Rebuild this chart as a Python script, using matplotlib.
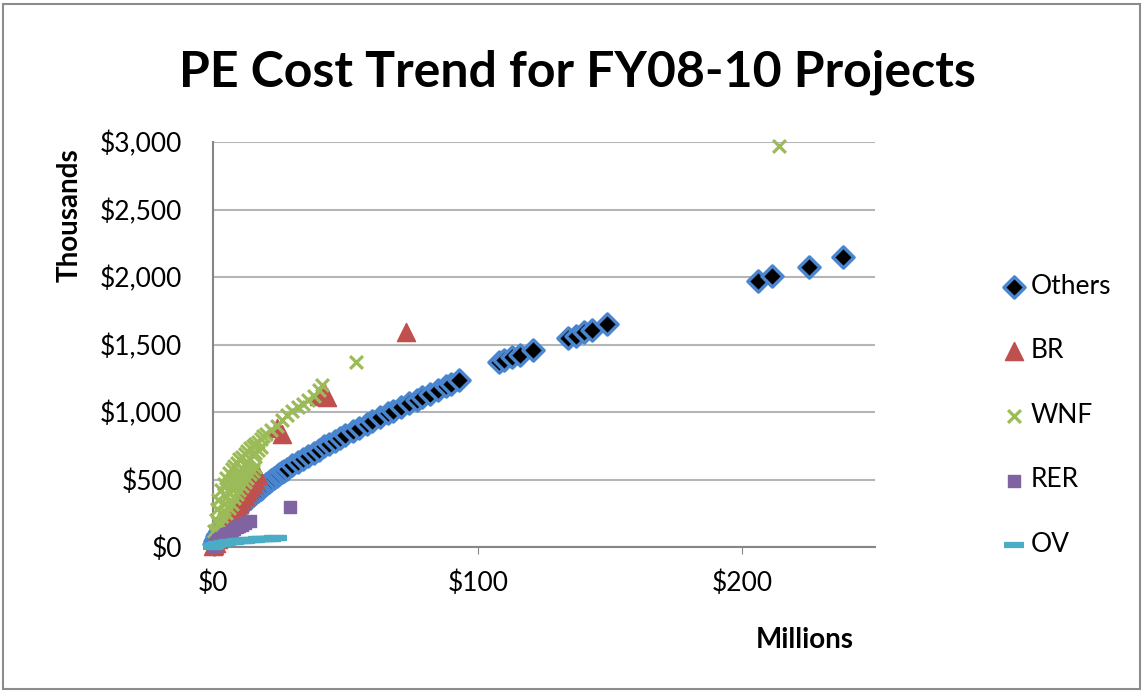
import matplotlib
matplotlib.use("Agg")
import matplotlib.pyplot as plt
from matplotlib.patches import Rectangle
from matplotlib.ticker import FuncFormatter

# project cost in $ millions (x) vs PE cost in $ thousands (y)
others_x = [0.3, 0.6, 1, 1.5, 2, 2.5, 3, 3.5, 4, 5, 6, 7, 8, 9, 10, 11, 12, 13, 14, 15,
            16, 17, 18, 19, 20, 21, 22, 23, 24, 25, 26, 27, 28, 30, 32, 34, 36, 38, 40, 42,
            44, 46, 48, 50, 53, 55, 58, 60, 63, 66, 68, 71, 74, 77, 79, 82, 85, 88, 90, 93,
            108, 110, 113, 116, 121, 134, 137, 140, 143, 149, 206, 211, 225, 238]
others_y = [25, 45, 60, 80, 100, 115, 130, 145, 160, 185, 210, 230, 250, 270, 295, 310, 330, 350, 365, 385,
            400, 415, 430, 450, 465, 480, 495, 510, 525, 540, 555, 565, 580, 605, 630, 655, 675, 700, 720, 745,
            765, 785, 810, 830, 860, 880, 910, 930, 960, 990, 1010, 1035, 1065, 1090, 1110, 1135, 1160, 1190, 1210, 1240,
            1370, 1385, 1410, 1425, 1460, 1545, 1560, 1590, 1605, 1650, 1970, 2005, 2075, 2150]

br_x = [0.2, 0.5, 1, 2, 3, 4, 5, 6, 7, 8, 9, 10, 11, 12, 13, 14, 15, 16, 17,
        24, 26, 40, 42, 43, 73]
br_y = [5, 15, 30, 60, 100, 140, 170, 200, 230, 260, 290, 320, 350, 380, 410, 440, 470, 500, 530,
        880, 840, 1120, 1150, 1110, 1590]

wnf_x = [0.5, 1, 1.5, 2, 3, 4, 5, 6, 7, 8, 9, 10, 11, 12, 13, 14, 15, 16, 17, 18,
         19, 20, 22, 24, 26, 28, 30, 32, 34, 36, 38, 40, 41, 54, 214,
         1, 2, 3, 4, 5, 6, 7, 8, 9, 10, 11, 12, 13, 14, 15, 16, 17, 18,
         1, 2, 3, 4, 5, 6, 7, 8, 9, 10, 11, 12, 13, 14, 15, 16]
wnf_y = [120, 200, 280, 350, 420, 470, 510, 545, 575, 600, 625, 650, 670, 690, 710, 730, 745, 760, 780, 800,
         820, 835, 870, 900, 940, 980, 1010, 1040, 1060, 1090, 1120, 1160, 1200, 1370, 2970,
         100, 180, 250, 320, 370, 410, 450, 490, 520, 555, 580, 610, 630, 655, 680, 700, 720, 740,
         60, 120, 170, 210, 250, 290, 320, 360, 390, 420, 450, 480, 510, 540, 565, 590]

rer_x = [0.3, 0.6, 1, 1.5, 2, 2.5, 3, 4, 5, 6, 7, 8, 9, 10, 11, 12, 14, 29]
rer_y = [10, 20, 30, 40, 50, 60, 70, 80, 95, 105, 120, 130, 145, 155, 165, 180, 195, 300]

ov_x = [0, 0.5, 1, 2, 3, 4, 5, 6, 7, 8, 9, 10, 11, 12, 13, 14, 15, 16, 17, 18,
        19, 20, 21, 22, 23, 24]
ov_y = [0, 10, 15, 20, 25, 30, 33, 36, 38, 40, 42, 44, 46, 48, 50, 52, 54, 55, 57, 58,
        60, 61, 62, 63, 64, 65]

font = ["Lato", "DejaVu Sans"]
plt.rcParams['font.family'] = font

fig = plt.figure(figsize=(11.45, 6.92), dpi=100)
fig.patches.append(Rectangle((0.003, 0.004), 0.993, 0.99, transform=fig.transFigure,
                             fill=False, edgecolor="#8c8c8c", linewidth=1.5))
ax = fig.add_axes([0.186, 0.2095, 0.578, 0.5853])

ax.scatter(others_x, others_y, marker="D", s=115, color="black", edgecolors="#4a86d0",
           linewidths=2.5, label="Others", clip_on=False, zorder=3)
ax.scatter(br_x, br_y, marker="^", s=170, color="#c0504d", edgecolors="#c0504d",
           label="BR", clip_on=False, zorder=4)
ax.scatter(wnf_x, wnf_y, marker="x", s=85, color="#9bbb59", linewidths=2.3,
           label="WNF", clip_on=False, zorder=5)
ax.scatter(rer_x, rer_y, marker="s", s=75, color="#8064a2", edgecolors="#8064a2",
           label="RER", clip_on=False, zorder=6)
ax.scatter(ov_x, ov_y, marker="_", s=200, color="#4bacc6", linewidths=4.5,
           label="OV", clip_on=False, zorder=7)

ax.set_xlim(0, 250)
ax.set_ylim(0, 3000)
ax.set_xticks([0, 100, 200])
ax.set_yticks(range(0, 3001, 500))
ax.xaxis.set_major_formatter(FuncFormatter(lambda v, p: f"${v:,.0f}"))
ax.yaxis.set_major_formatter(FuncFormatter(lambda v, p: f"${v:,.0f}"))
ax.tick_params(axis="x", length=5, color="#868686", labelsize=19, pad=12)
ax.tick_params(axis="y", length=0, labelsize=19, pad=22)
ax.grid(axis="y", color="#b5b5b5", linewidth=1.5)
ax.set_axisbelow(True)
for side in ["top", "right"]:
    ax.spines[side].set_visible(False)
for side in ["left", "bottom"]:
    ax.spines[side].set_color("#868686")
    ax.spines[side].set_linewidth(1.5)

fig.text(0.504, 0.895, "PE Cost Trend for FY08-10 Projects", ha="center", va="center",
         fontsize=36, fontweight="bold")
fig.text(0.061, 0.689, "Thousands", rotation=90, ha="center", va="center",
         fontsize=20, fontweight="bold")
fig.text(0.703, 0.075, "Millions", ha="center", va="center", fontsize=20, fontweight="bold")

ax.legend(loc="center left", bbox_to_anchor=(1.17, 0.325), frameon=False, fontsize=19,
          labelspacing=1.5, handletextpad=0.05, handlelength=1.2, borderaxespad=0)

fig.savefig("out.png", dpi=100)
